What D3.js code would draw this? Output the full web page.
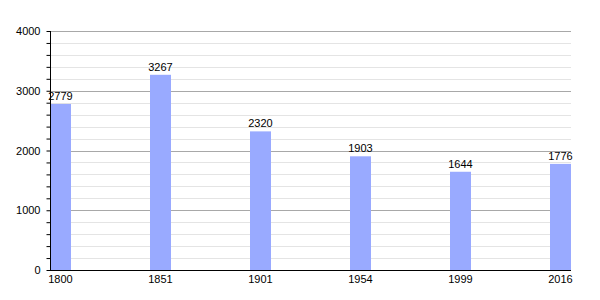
<!DOCTYPE html>
<html><head><meta charset="utf-8">
<script src="https://cdn.jsdelivr.net/npm/d3@7"></script>
<style>body{margin:0;background:#fff}svg{display:block;font-family:"Liberation Sans",Arial,sans-serif}</style>
</head><body><svg id="c" width="600" height="300"></svg>
<script>
const years = ["1800","1851","1901","1954","1999","2016"];
const population = [2779,3267,2320,1903,1644,1776];
const yTicks = [0,1000,2000,3000,4000];

(function(){
const svg = d3.select("#c");
const mLeft = 50, mRight = 571, mTop = 31, mBottom = 270;
const y = d3.scaleLinear().domain([0,4000]).range([mBottom, mTop]);
const x = d3.scaleBand().domain(years).range([mLeft, mLeft + 600]).paddingInner(0).paddingOuter(0);
const barW = x.bandwidth() * 0.21;

// minor grid
const minor = d3.range(200, 4000, 200).filter(v => v % 1000 !== 0);
svg.append("g").selectAll("line").data(minor).join("line")
  .attr("x1", mLeft).attr("x2", mRight).attr("y1", d => Math.round(y(d))+0.5).attr("y2", d => Math.round(y(d))+0.5)
  .attr("stroke", "#e4e4e4").attr("stroke-width", 1);
// major grid
svg.append("g").selectAll("line").data(yTicks.filter(v=>v>0)).join("line")
  .attr("x1", mLeft).attr("x2", mRight).attr("y1", d => Math.round(y(d))+0.5).attr("y2", d => Math.round(y(d))+0.5)
  .attr("stroke", "#a8a8a8").attr("stroke-width", 1);

// bars
svg.append("g").selectAll("rect").data(population).join("rect")
  .attr("x", (d,i) => x(years[i])).attr("width", barW)
  .attr("y", d => y(d)).attr("height", d => mBottom - y(d))
  .attr("fill", "#99aaff");

// value labels
svg.append("g").selectAll("text").data(population).join("text")
  .attr("x", (d,i) => x(years[i]) + barW/2).attr("y", d => y(d) - 4)
  .attr("text-anchor", "middle").attr("font-size", 11).attr("fill", "#000")
  .text(d => d);

// y axis
const yAxis = d3.axisLeft(y).tickValues(d3.range(0, 4001, 200)).tickSize(4).tickPadding(6)
  .tickFormat(d => yTicks.includes(d) ? d : "");
const ga = svg.append("g").attr("transform", `translate(${mLeft+0.5},0)`).call(yAxis);
ga.select(".domain").attr("stroke", "#000").attr("d", `M0,${mTop}V${mBottom}`);
ga.selectAll(".tick line").attr("stroke", "#000");
ga.selectAll(".tick text").attr("font-size", 11).attr("font-family", "Liberation Sans, Arial, sans-serif").attr("fill", "#000");

// x axis line
svg.append("line").attr("x1", mLeft).attr("x2", mRight).attr("y1", mBottom+0.5).attr("y2", mBottom+0.5)
  .attr("stroke", "#000").attr("stroke-width", 1);

// x labels
svg.append("g").selectAll("text").data(years).join("text")
  .attr("x", d => x(d) + barW/2).attr("y", mBottom + 13)
  .attr("text-anchor", "middle").attr("font-size", 11).attr("fill", "#000")
  .text(d => d);
})();
</script></body></html>
